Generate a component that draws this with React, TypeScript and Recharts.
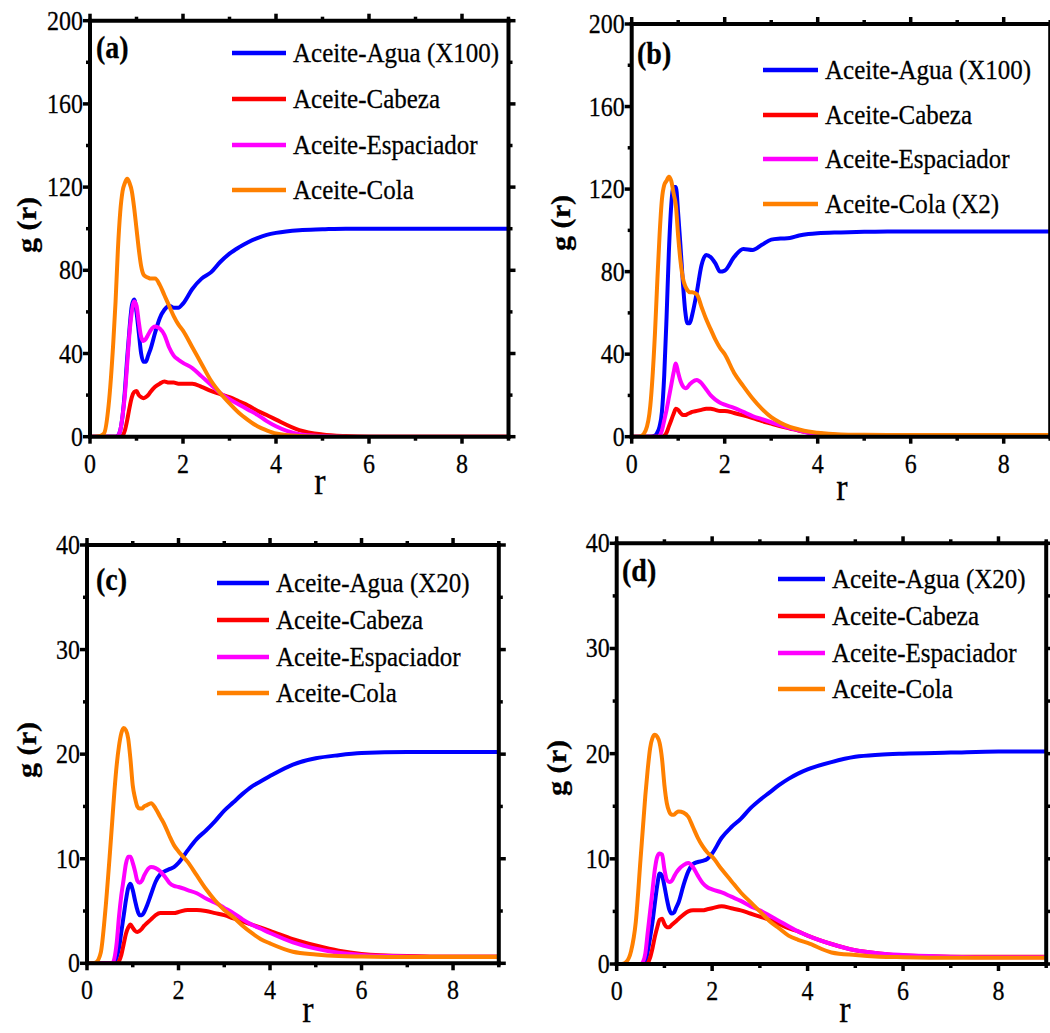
import React from 'react';
import { LineChart, Line, XAxis, YAxis } from 'recharts';

// shared r grid (groups: 0..0.5 | 0.55..0.9 | 0.95..1.3 | 1.4..2.0 | 2.2..4.0 | 4.5..9)
const R = [
  0, 0.1, 0.2, 0.3, 0.4, 0.5,
  0.55, 0.6, 0.65, 0.7, 0.75, 0.8, 0.85, 0.9,
  0.95, 1.0, 1.05, 1.1, 1.15, 1.2, 1.25, 1.3,
  1.4, 1.5, 1.6, 1.7, 1.8, 1.9, 2.0,
  2.2, 2.4, 2.6, 2.8, 3.0, 3.2, 3.4, 3.6, 3.8, 4.0,
  4.5, 5.0, 5.5, 6, 7, 8, 9,
];

// Panel (a)
const aAgua = [
  0, 0, 0, 0, 0, 0,
  0, 0.5, 3, 10, 22, 38, 52, 63,
  66, 60, 50, 40, 36, 36, 39, 42,
  50, 57, 61, 63, 62, 62, 64,
  71, 76, 79, 84, 88, 91, 93.5, 95.5, 97, 98,
  99.3, 99.7, 100, 100, 100, 100, 100,
];
const aCabeza = [
  0, 0, 0, 0, 0, 0,
  0, 0, 0, 0.5, 3, 8, 14, 19,
  21.5, 22, 20, 19, 18.5, 19, 20, 21.5,
  24, 25.5, 26.5, 26, 26, 25.5, 25.5,
  25.5, 24, 22, 20.5, 19, 17, 15, 12.5, 10.4, 8.2,
  3.2, 1.1, 0.3, 0, 0, 0, 0,
];
const aEsp = [
  0, 0, 0, 0, 0, 0,
  0, 0.5, 3, 10, 20, 35, 50, 60,
  65, 63, 55, 48, 46, 47, 49, 51,
  53, 52, 49, 43, 39, 37, 35.5,
  33, 29, 25, 21, 18, 15.5, 13, 10.5, 7.5, 5,
  1.2, 0.3, 0, 0, 0, 0, 0,
];
const aCola = [
  0, 0, 0.2, 1.5, 15, 45,
  65, 90, 108, 118, 122, 124, 122, 118,
  110, 100, 90, 82, 78, 77, 76.5, 76,
  76, 73, 68, 63, 58, 54, 51,
  43, 35, 27, 21, 16, 11.5, 8, 5, 3, 1.5,
  0.3, 0, 0, 0, 0, 0, 0,
];

// Panel (b)
const bAgua = [
  0, 0, 0, 0, 0, 0.5,
  2, 5, 12, 30, 58, 90, 112, 121,
  121, 108, 92, 75, 61, 55, 55, 59,
  70, 83, 88, 87, 84, 80, 80.5,
  87, 91, 90.5, 93, 95.5, 96, 96.3, 97.5, 98.2, 98.6,
  99, 99.3, 99.5, 99.5, 99.5, 99.5, 99.5,
];
const bCabeza = [
  0, 0, 0, 0, 0, 0,
  0, 0, 0, 0.5, 2, 5, 8, 11,
  13.5, 13, 11.5, 10.5, 10.5, 11, 11.5, 12,
  12.5, 13, 13.5, 13.5, 13, 12.5, 12.5,
  11.5, 10.3, 9, 7.6, 6.3, 5, 4, 2.9, 2.1, 1.6,
  0.7, 0.4, 0.2, 0.1, 0.1, 0.1, 0.1,
];
const bEsp = [
  0, 0, 0, 0, 0, 0,
  0, 0.5, 3, 8, 13, 19, 25, 31,
  35.5, 31, 27, 24.5, 23.5, 24, 25.5, 26.5,
  27.5, 26, 23, 20, 18, 16.5, 15.5,
  14, 12, 10, 8.5, 7, 5.5, 4.2, 3, 1.8, 1.1,
  0.4, 0.2, 0.1, 0.1, 0.1, 0.1, 0.1,
];
const bCola = [
  0, 0, 0.3, 3, 15, 50,
  75, 98, 115, 122, 124, 126, 124, 118,
  112, 97, 85, 77, 73, 71, 70, 70,
  69, 63, 57, 52, 47, 43, 40,
  31, 24.5, 18.5, 13.5, 9.5, 6.8, 4.8, 3.5, 2.5, 1.9,
  1.1, 0.9, 0.8, 0.8, 0.8, 0.8, 0.8,
];

// Panel (c)
const cAgua = [
  0, 0, 0, 0, 0, 0,
  0, 0.1, 0.6, 1.5, 3, 4.5, 6, 7.2,
  7.6, 7, 6, 5.1, 4.6, 4.6, 4.9, 5.4,
  6.6, 7.8, 8.5, 8.8, 9, 9.2, 9.6,
  10.8, 11.9, 12.7, 13.6, 14.6, 15.4, 16.2, 16.9, 17.4, 17.9,
  19, 19.6, 19.9, 20.1, 20.2, 20.2, 20.2,
];
const cCabeza = [
  0, 0, 0, 0, 0, 0,
  0, 0, 0, 0.2, 0.8, 1.8, 2.8, 3.4,
  3.7, 3.4, 3.1, 3.0, 3.1, 3.3, 3.6, 3.8,
  4.2, 4.6, 4.8, 4.8, 4.8, 4.8, 4.9,
  5.1, 5.1, 5.0, 4.8, 4.6, 4.3, 4.0, 3.7, 3.4, 3.1,
  2.3, 1.7, 1.2, 0.9, 0.7, 0.65, 0.65,
];
const cEsp = [
  0, 0, 0, 0, 0, 0,
  0, 0.5, 2, 4.5, 6.5, 8, 9.5, 10.2,
  10.2, 9.6, 8.8, 7.9, 7.7, 7.9, 8.4, 8.8,
  9.2, 9.1, 8.8, 8.3, 7.7, 7.4, 7.3,
  7.0, 6.7, 6.2, 5.8, 5.3, 4.8, 4.2, 3.7, 3.3, 2.9,
  2.0, 1.4, 1.0, 0.8, 0.65, 0.6, 0.6,
];
const cCola = [
  0, 0, 0.1, 1, 5, 10.5,
  13.5, 16.5, 19, 20.8, 22, 22.5, 22.3, 21.5,
  19.5, 17, 15.8, 15, 14.8, 14.8, 15, 15.1,
  15.3, 14.8, 14, 13.2, 12.2, 11.3, 10.7,
  9.7, 8.4, 7.1, 6.0, 5.1, 4.4, 3.6, 2.9, 2.3, 1.9,
  1.1, 0.85, 0.7, 0.65, 0.6, 0.6, 0.6,
];

// Panel (d)
const dAgua = [
  0, 0, 0, 0, 0, 0,
  0, 0.2, 1.2, 2.5, 4, 5.8, 7.5, 8.6,
  8.4, 7.4, 6.2, 5.2, 4.8, 4.9, 5.4, 5.9,
  7.5, 8.8, 9.5, 9.7, 9.8, 10.0, 10.5,
  12, 13, 13.8, 14.8, 15.6, 16.3, 17, 17.6, 18.1, 18.5,
  19.2, 19.7, 19.9, 20.0, 20.1, 20.2, 20.2,
];
const dCabeza = [
  0, 0, 0, 0, 0, 0,
  0, 0, 0.1, 0.6, 1.5, 2.6, 3.5, 4.2,
  4.3, 3.8, 3.5, 3.5, 3.7, 3.9, 4.1, 4.3,
  4.7, 5.0, 5.1, 5.1, 5.1, 5.2, 5.3,
  5.5, 5.3, 5.1, 4.8, 4.5, 4.2, 3.8, 3.4, 3.1, 2.7,
  1.9, 1.3, 1.0, 0.8, 0.7, 0.7, 0.7,
];
const dEsp = [
  0, 0, 0, 0, 0, 0,
  0.2, 1, 3, 5, 7, 9, 10.2, 10.5,
  10.4, 9, 8, 7.8, 7.9, 8.3, 8.7, 9.0,
  9.4, 9.6, 9.2, 8.4, 7.7, 7.3, 7.1,
  6.8, 6.4, 6, 5.5, 5.1, 4.6, 4.1, 3.6, 3.1, 2.7,
  1.9, 1.3, 1.0, 0.85, 0.7, 0.65, 0.65,
];
const dCola = [
  0, 0, 0.2, 1.2, 4, 10,
  13, 16, 18.5, 20.5, 21.5, 21.8, 21.6, 21,
  19.5, 17, 15.3, 14.5, 14.2, 14.2, 14.4, 14.5,
  14.4, 14, 13, 12, 11.2, 10.6, 10.2,
  9, 7.9, 6.8, 5.9, 5, 4.1, 3.4, 2.7, 2.3, 2.0,
  1.1, 0.85, 0.7, 0.65, 0.6, 0.6, 0.6,
];

const X_TICKS = [0, 1, 2, 3, 4, 5, 6, 7, 8, 9];
const X_MAJOR = [0, 2, 4, 6, 8];
const Y_TICKS_AB = [0, 20, 40, 60, 80, 100, 120, 140, 160, 180, 200];
const Y_MAJOR_AB = [0, 40, 80, 120, 160, 200];
const Y_TICKS_CD = [0, 5, 10, 15, 20, 25, 30, 35, 40];
const Y_MAJOR_CD = [0, 10, 20, 30, 40];

const NAMES_A = ['Aceite-Agua (X100)', 'Aceite-Cabeza', 'Aceite-Espaciador', 'Aceite-Cola'];
const NAMES_B = ['Aceite-Agua (X100)', 'Aceite-Cabeza', 'Aceite-Espaciador', 'Aceite-Cola (X2)'];
const NAMES_CD = ['Aceite-Agua (X20)', 'Aceite-Cabeza', 'Aceite-Espaciador', 'Aceite-Cola'];
const KEYS = ['agua', 'cabeza', 'esp', 'cola'];
const COLORS = ['#0000FF', '#FF0000', '#FF00FF', '#FF8000'];

const FONT = '"Liberation Serif", "Times New Roman", serif';
const SY = 1.12; // text looks vertically stretched in the reference

function SText({ x, y, size, anchor = 'start', bold = false, rotate = 0, baseline, children }: any) {
  return (
    <text
      transform={`translate(${x},${y}) scale(1,${SY})${rotate ? ` rotate(${rotate})` : ''}`}
      x={0} y={0} fontSize={size} fontFamily={FONT} fill="#000" textAnchor={anchor}
      fontWeight={bold ? 'bold' : 'normal'} dominantBaseline={baseline}
      stroke="#000" strokeWidth={0.25}
    >{children}</text>
  );
}

type Side = 'bottom' | 'top' | 'left' | 'right';
function makeTick(side: Side, major: number[], showLabel: boolean) {
  return (props: any) => {
    const { x, y, payload } = props;
    const v = payload.value;
    const isMajor = major.includes(v);
    const len = isMajor ? 7 : 4;
    let x2 = x;
    let y2 = y;
    if (side === 'bottom') y2 = y + len;
    else if (side === 'top') y2 = y - len;
    else if (side === 'left') x2 = x - len;
    else x2 = x + len;
    return (
      <g>
        <line x1={x} y1={y} x2={x2} y2={y2} stroke="#000" strokeWidth={3.5} />
        {showLabel && isMajor && side === 'bottom' && (
          <SText x={x} y={y + 36} size={24} anchor="middle">{v}</SText>
        )}
        {showLabel && isMajor && side === 'left' && (
          <SText x={x - 7} y={y + 9} size={24} anchor="end">{v}</SText>
        )}
      </g>
    );
  };
}

const PANELS = [
  {
    tag: '(a)', box: { l: 0, t: 0, w: 525, h: 515 }, plot: { l: 90, t: 20.7, r: 508.5, b: 436.7 },
    yMax: 200, yTicks: Y_TICKS_AB, yMajor: Y_MAJOR_AB, series: [aAgua, aCabeza, aEsp, aCola], names: NAMES_A,
    legend: { x1: 232, x2: 286, tx: 293, rows: [53, 99, 145, 190] }, tagPos: { x: 96, y: 58 },
    yLab: { x: 27, y: 225 }, xLab: { x: 320, y: 494 },
  },
  {
    tag: '(b)', box: { l: 525, t: 0, w: 545, h: 515 }, plot: { l: 631.7, t: 24, r: 1050.2, b: 436.7 },
    yMax: 200, yTicks: Y_TICKS_AB, yMajor: Y_MAJOR_AB, series: [bAgua, bCabeza, bEsp, bCola], names: NAMES_B,
    legend: { x1: 763, x2: 818, tx: 825, rows: [70, 115, 159, 204] }, tagPos: { x: 637, y: 64 },
    yLab: { x: 561, y: 223 }, xLab: { x: 842, y: 500 },
  },
  {
    tag: '(c)', box: { l: 0, t: 515, w: 525, h: 518 }, plot: { l: 87, t: 545, r: 498.8, b: 963.3 },
    yMax: 40, yTicks: Y_TICKS_CD, yMajor: Y_MAJOR_CD, series: [cAgua, cCabeza, cEsp, cCola], names: NAMES_CD,
    legend: { x1: 217, x2: 269, tx: 276, rows: [583, 620, 657, 693] }, tagPos: { x: 96, y: 590 },
    yLab: { x: 27, y: 750 }, xLab: { x: 308, y: 1022 },
  },
  {
    tag: '(d)', box: { l: 525, t: 515, w: 545, h: 530 }, plot: { l: 616.7, t: 543.3, r: 1046.2, b: 964 },
    yMax: 40, yTicks: Y_TICKS_CD, yMajor: Y_MAJOR_CD, series: [dAgua, dCabeza, dEsp, dCola], names: NAMES_CD,
    legend: { x1: 778, x2: 825, tx: 832, rows: [579, 616, 653, 689] }, tagPos: { x: 622, y: 581 },
    yLab: { x: 557, y: 768 }, xLab: { x: 845, y: 1022 },
  },
];

const TOP_H = 8;
const RIGHT_W = 8;
const BOTTOM_H = 30;
const LEFT_W = 30;

function Panel({ p }: { p: any }) {
  const data = R.map((r, i) => {
    const row: any = { r };
    KEYS.forEach((k, j) => { row[k] = p.series[j][i]; });
    return row;
  });
  const margin = {
    top: p.plot.t - p.box.t - TOP_H,
    right: p.box.l + p.box.w - p.plot.r - RIGHT_W,
    bottom: p.box.t + p.box.h - p.plot.b - BOTTOM_H,
    left: p.plot.l - p.box.l - LEFT_W,
  };
  const axisLine = { stroke: '#000', strokeWidth: 4, strokeLinecap: 'square' as const };
  return (
    <div style={{ position: 'absolute', left: p.box.l, top: p.box.t }}>
      <LineChart width={p.box.w} height={p.box.h} data={data} margin={margin}>
        <XAxis xAxisId="b" dataKey="r" type="number" domain={[0, 9]} ticks={X_TICKS} interval={0}
          orientation="bottom" height={BOTTOM_H} tickSize={0} tickMargin={0} tickLine={false}
          axisLine={axisLine} tick={makeTick('bottom', X_MAJOR, true)} allowDataOverflow />
        <XAxis xAxisId="t" dataKey="r" type="number" domain={[0, 9]} ticks={X_TICKS} interval={0}
          orientation="top" height={TOP_H} tickSize={0} tickMargin={0} tickLine={false}
          axisLine={axisLine} tick={makeTick('top', X_MAJOR, false)} allowDataOverflow />
        <YAxis yAxisId="l" type="number" domain={[0, p.yMax]} ticks={p.yTicks} interval={0}
          orientation="left" width={LEFT_W} tickSize={0} tickMargin={0} tickLine={false}
          axisLine={axisLine} tick={makeTick('left', p.yMajor, true)} allowDataOverflow />
        <YAxis yAxisId="r" type="number" domain={[0, p.yMax]} ticks={p.yTicks} interval={0}
          orientation="right" width={RIGHT_W} tickSize={0} tickMargin={0} tickLine={false}
          axisLine={axisLine} tick={makeTick('right', p.yMajor, false)} allowDataOverflow />
        {KEYS.map((k, j) => (
          <Line key={k} xAxisId="b" yAxisId="l" type="monotone" dataKey={k} stroke={COLORS[j]}
            strokeWidth={4} dot={false} activeDot={false} isAnimationActive={false} />
        ))}
      </LineChart>
    </div>
  );
}

export default function App() {
  return (
    <div style={{ position: 'fixed', left: 0, top: 0, width: 1050, height: 1033, overflow: 'hidden', background: '#fff' }}>
      {PANELS.map((p, i) => <Panel key={i} p={p} />)}
      <svg width={1050} height={1033} style={{ position: 'absolute', left: 0, top: 0, pointerEvents: 'none' }}>
        {PANELS.map((p, i) => (
          <g key={i}>
            <SText x={p.tagPos.x} y={p.tagPos.y} size={28} bold>{p.tag}</SText>
            <SText x={p.yLab.x} y={p.yLab.y} size={27} bold anchor="middle" baseline="central" rotate={-90}>g (r)</SText>
            <SText x={p.xLab.x} y={p.xLab.y} size={34} anchor="middle">r</SText>
            {p.names.map((n: string, j: number) => (
              <g key={j}>
                <line x1={p.legend.x1} x2={p.legend.x2} y1={p.legend.rows[j]} y2={p.legend.rows[j]}
                  stroke={COLORS[j]} strokeWidth={4.5} />
                <SText x={p.legend.tx} y={p.legend.rows[j] + 9} size={25}>{n}</SText>
              </g>
            ))}
          </g>
        ))}
      </svg>
    </div>
  );
}
